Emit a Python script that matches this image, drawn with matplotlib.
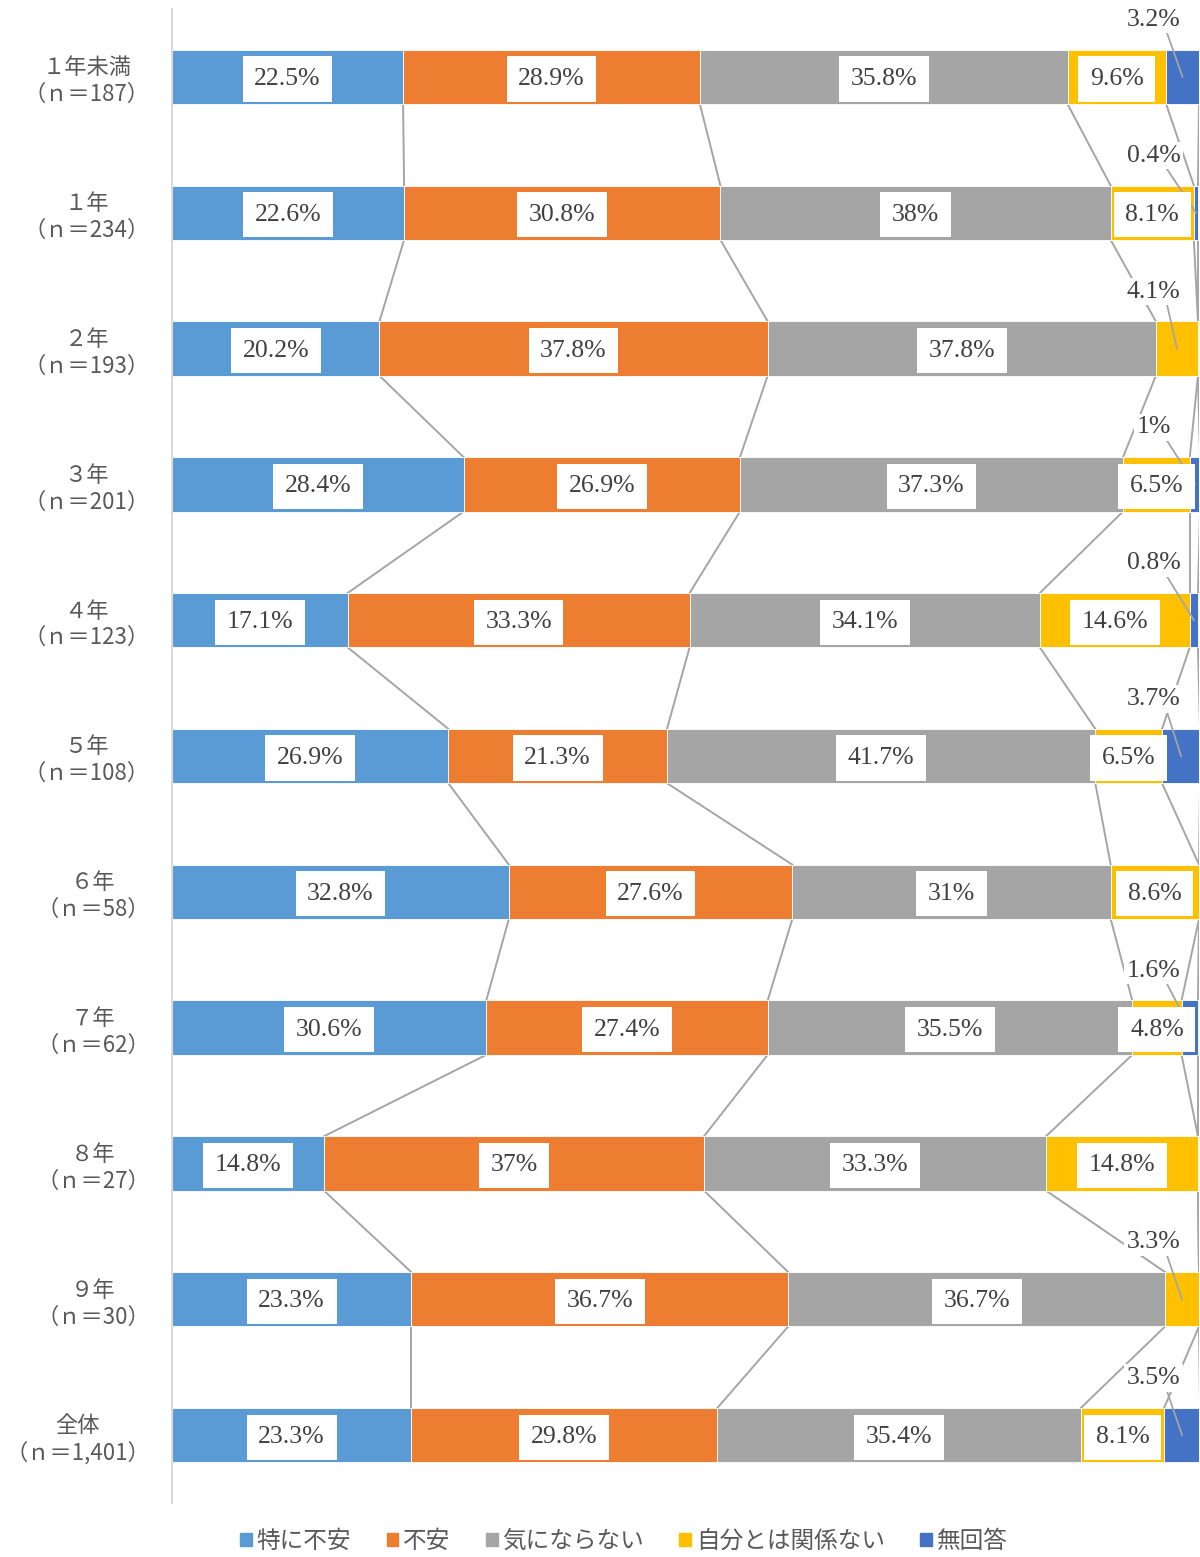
import matplotlib.pyplot as plt
from matplotlib.patches import Patch
import numpy as np

plt.rcParams['font.family'] = ['Noto Sans CJK JP', 'DejaVu Sans']

categories = ['１年未満\n（ｎ＝187）', '１年\n（ｎ＝234）', '２年\n（ｎ＝193）', '３年\n（ｎ＝201）',
              '４年\n（ｎ＝123）', '５年\n（ｎ＝108）', '６年\n（ｎ＝58）', '７年\n（ｎ＝62）',
              '８年\n（ｎ＝27）', '９年\n（ｎ＝30）', '全体\n（ｎ＝1,401）']
series_names = ['特に不安', '不安', '気にならない', '自分とは関係ない', '無回答']
toku = [22.5, 22.6, 20.2, 28.4, 17.1, 26.9, 32.8, 30.6, 14.8, 23.3, 23.3]
fuan = [28.9, 30.8, 37.8, 26.9, 33.3, 21.3, 27.6, 27.4, 37, 36.7, 29.8]
kini = [35.8, 38, 37.8, 37.3, 34.1, 41.7, 31, 35.5, 33.3, 36.7, 35.4]
jibun = [9.6, 8.1, 4.1, 6.5, 14.6, 6.5, 8.6, 4.8, 14.8, 3.3, 8.1]
mukaito = [3.2, 0.4, 0, 1, 0.8, 3.7, 0, 1.6, 0, 0, 3.5]

colors = ['#5B9BD5', '#ED7D31', '#A5A5A5', '#FFC000', '#4472C4']
num_font = 'Liberation Serif'
bar_h = 0.4

data = np.array([toku, fuan, kini, jibun, mukaito])
n = len(categories)
y = np.arange(n)

fig = plt.figure(figsize=(12, 15.57), dpi=100)
ax = fig.add_axes([172 / 1200, 1 - 1503 / 1557, 1027 / 1200, 1494 / 1557])

left = np.zeros(n)
for k in range(5):
    ax.barh(y, data[k], left=left, height=bar_h, color=colors[k],
            edgecolor='white', linewidth=0.6, zorder=2)
    left += data[k]

cum = np.cumsum(data, axis=0)

# series lines between neighbouring bars
for i in range(n - 1):
    for k in range(5):
        ax.plot([cum[k, i], cum[k, i + 1]], [i + bar_h / 2, i + 1 - bar_h / 2],
                color='#A5A5A5', lw=1.4, zorder=1)

# data labels
for k in range(5):
    for i in range(n):
        v = data[k, i]
        if v <= 0:
            continue
        mid = cum[k, i] - v / 2
        txt = f'{v:g}%'
        if v >= 4.5:
            ax.text(mid, i + 0.015, txt, ha='center', va='center', fontsize=18.5,
                    family=num_font, color='#404040', zorder=4,
                    bbox=dict(boxstyle='square,pad=0.45', fc='white', ec='none'))
        else:
            lx, ly = 95.6, i - 0.42
            ax.plot([lx + 1.3, mid], [ly + 0.1, i], color='#A5A5A5', lw=1.3, zorder=3)
            ax.text(lx, ly, txt, ha='center', va='center', fontsize=18.5,
                    family=num_font, color='#404040', zorder=4,
                    bbox=dict(boxstyle='square,pad=0.1', fc='white', ec='none'))

ax.set_xlim(0, 100)
ax.set_ylim(n - 0.5, -0.5)
ax.set_yticks(y)
ax.set_yticklabels(categories, fontsize=16, color='#595959', linespacing=1.2)
for lab in ax.get_yticklabels():
    lab.set_multialignment('center')
ax.tick_params(axis='y', length=0, pad=16)
ax.set_xticks([])
for s in ['top', 'right', 'bottom']:
    ax.spines[s].set_visible(False)
ax.spines['left'].set_color('#D9D9D9')
ax.spines['left'].set_linewidth(1.5)

handles = [Patch(color=c, label=s) for c, s in zip(colors, series_names)]
leg = fig.legend(handles=handles, loc='lower center', bbox_to_anchor=(0.52, -0.011),
                 ncol=5, frameon=False, fontsize=17, handlelength=0.5, handleheight=0.5,
                 handletextpad=0.2, columnspacing=1.5)
for t in leg.get_texts():
    t.set_color('#595959')

fig.savefig('out.png', dpi=100)
